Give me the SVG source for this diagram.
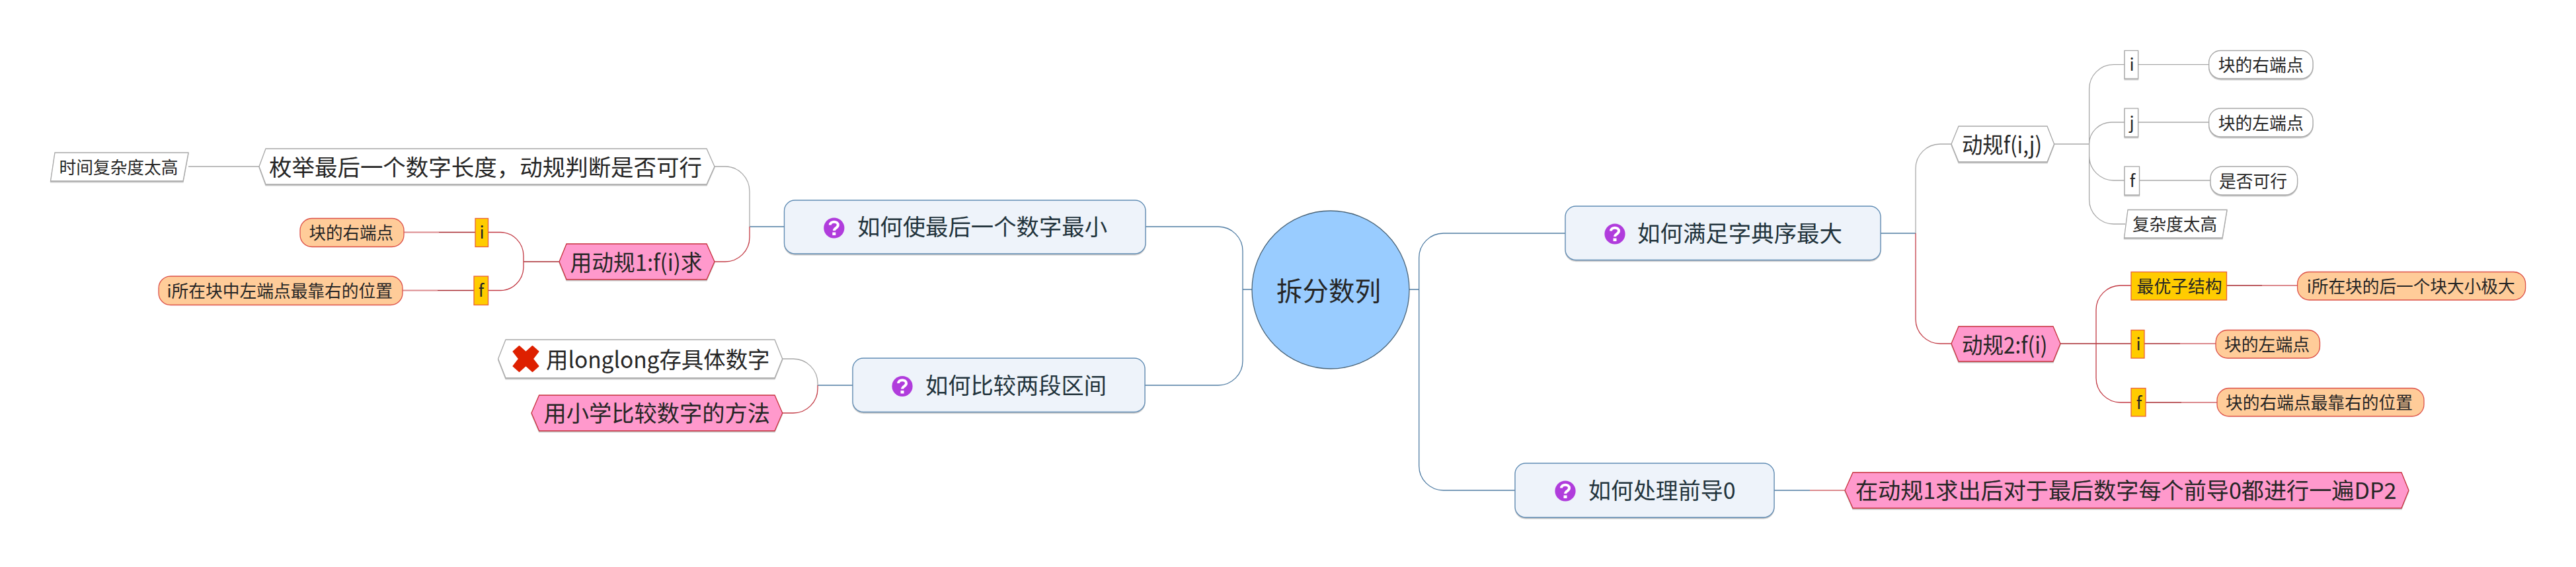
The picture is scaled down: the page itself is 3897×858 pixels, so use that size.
<svg xmlns="http://www.w3.org/2000/svg" width="3897" height="858" viewBox="0 0 3897 858">
<style>
text{font-family:"Noto Sans CJK SC","Noto Sans",sans-serif;font-weight:400;fill:#262626}
.t34{font-size:34px}.t26{font-size:26px}.t40{font-size:40px}
.d{fill:#22333c}
.c{fill:none;stroke-width:1.3}
.g{stroke:#a8a8a8}.b{stroke:#4f7ca3}.r{stroke:#c23a44}.dr{stroke:#a82a30;stroke-width:1.5}.lr{stroke:#dc8a8e;stroke-width:2}
.plain{fill:#fff;stroke:#a8a8a8;stroke-width:1.3}
.pink{fill:#ff99cc;stroke:#c8303c;stroke-width:1.3}
.orange{fill:#ffcc99;stroke:#dc5048;stroke-width:1.3}
.yellow{fill:#ffcc00;stroke:#e8603a;stroke-width:1.3}
.box{fill:#eef3fa;stroke:#5f8cb4;stroke-width:1.3}
.main{fill:#99ccff;stroke:#4a6478;stroke-width:1.3}
.s{filter:url(#sh)}
</style>
<defs>
<filter id="sh" x="-5%" y="-10%" width="110%" height="125%"><feDropShadow dx="0" dy="1.5" stdDeviation="0.6" flood-color="#888" flood-opacity="0.55"/></filter>
<g id="q"><circle r="15.6" fill="#b03cdc"/><path d="M-6,-4.500 C-6,-11 6,-11 6,-4.500 C6,0 0,0 0,4" fill="none" stroke="#fff" stroke-width="4"/><rect x="-2.500" y="6.500" width="5" height="4.500" fill="#fff"/></g>
</defs>
<g id="connectors">
<path class="c b" d="M1880,438H1894M2132,438H2146.700"/>
<path class="c b" d="M1733,343H1843A37,37 0 0 1 1880,380V546A37,37 0 0 1 1843,583H1732"/>
<path class="c b" d="M2146.700,438V390A37,37 0 0 1 2183.700,353H2368"/>
<path class="c b" d="M2146.700,438V705A37,37 0 0 0 2183.700,742H2292"/>
<path class="c b" d="M1134,343H1186.500M1237,583H1290M2845,353H2898M2684,742H2738"/>
<path class="c lr" d="M2738,742H2791"/>
<path class="c g" d="M285,252H392M1081,252H1097A37,38 0 0 1 1134,290V343"/>
<path class="c r" d="M1134,343V359A37,37 0 0 1 1097,396H1081"/>
<path class="c lr" d="M611,351.500H664M609,439.500H662"/>
<path class="c dr" d="M664,351.500H719M662,439.500H717M792,396H846"/>
<path class="c r" d="M738.500,351.500H757A35,36 0 0 1 792,387V405A35,36 0 0 1 757,439.500H738.500"/>
<path class="c g" d="M1183.700,543H1200A37,37 0 0 1 1237,580V583"/>
<path class="c r" d="M1237,583V588A37,37 0 0 1 1200,625H1183.700"/>
<path class="c g" d="M2898,353V255A37,37 0 0 1 2935,218H2952"/>
<path class="c r" d="M2898,353V483A37,37 0 0 0 2935,520H2952"/>
<path class="c g" d="M3107.600,218H3160.600M3160.600,218V135A37,37 0 0 1 3197.600,97.700H3214M3160.600,218A34,33 0 0 1 3194,185H3214M3160.600,218V236A37,37 0 0 0 3197.600,273H3214M3160.600,218V302A37,37 0 0 0 3197.600,339H3215"/>
<path class="c g" d="M3234.600,97.700H3341.700M3234.600,185H3341.700M3236.500,273H3344"/>
<path class="c dr" d="M3117,520H3224M3368.500,432H3422M3244,520H3298M3246,609H3300"/>
<path class="c lr" d="M3422,432H3475.600M3298,520H3352M3300,609H3354"/>
<path class="c r" d="M3171,520V469A37,37 0 0 1 3208,432H3224M3171,520V572A37,37 0 0 0 3208,609H3224"/>
</g>
<g id="n-root"><ellipse class="main" cx="2013" cy="438.500" rx="119" ry="119.500"/><text class="t40" x="1931" y="455" textLength="158" lengthAdjust="spacingAndGlyphs">拆分数列</text></g>
<g id="n-a"><rect class="box s" x="1186.500" y="303" width="546.500" height="81" rx="16"/><use href="#q" x="1261.800" y="345"/><text class="t34 d" x="1297" y="356" textLength="378" lengthAdjust="spacingAndGlyphs">如何使最后一个数字最小</text></g>
<g id="n-a1"><polygon class="plain s" points="392,252 402,225 1069,225 1081,252 1069,279 402,279"/><text class="t34" x="407" y="266" textLength="655" lengthAdjust="spacingAndGlyphs">枚举最后一个数字长度，动规判断是否可行</text></g>
<g id="n-a1a"><polygon class="plain s" points="83,231 285,231 277,274 76.500,274"/><text class="t26" x="89.500" y="262.500" textLength="180" lengthAdjust="spacingAndGlyphs">时间复杂度太高</text></g>
<g id="n-a2"><polygon class="pink s" points="846,396 857,369 1069,369 1081,396 1069,423 857,423"/><text class="t34" x="862.500" y="410" textLength="200" lengthAdjust="spacingAndGlyphs">用动规1:f(i)求</text></g>
<g id="n-a2i"><rect class="yellow" x="719" y="330.500" width="19.500" height="43"/><text class="t26" x="729" y="361" text-anchor="middle">i</text></g>
<g id="n-a2f"><rect class="yellow" x="717" y="418" width="21.500" height="43.500"/><text class="t26" x="728" y="449" text-anchor="middle">f</text></g>
<g id="n-a2ip"><rect class="orange" x="454" y="330.500" width="157" height="43" rx="18"/><text class="t26" x="467.600" y="361.500" textLength="127.500" lengthAdjust="spacingAndGlyphs">块的右端点</text></g>
<g id="n-a2fp"><rect class="orange" x="240" y="418" width="369" height="43.500" rx="18"/><text class="t26" x="252.500" y="449.500" textLength="341.500" lengthAdjust="spacingAndGlyphs">i所在块中左端点最靠右的位置</text></g>
<g id="n-b"><rect class="box s" x="1290" y="542" width="442" height="81.500" rx="16"/><use href="#q" x="1365" y="584.500"/><text class="t34 d" x="1400" y="596" textLength="274" lengthAdjust="spacingAndGlyphs">如何比较两段区间</text></g>
<g id="n-b1"><polygon class="plain s" points="753.600,543 765,514 1172,514 1183.700,543 1172,572 765,572"/><polygon fill="#de2000" stroke="#de2000" stroke-width="2" stroke-linejoin="round" points="776.500,532 785.500,524 795.500,533 805.500,524 814.500,532 806,543 814.500,554 805.500,562 795.500,553 785.500,562 776.500,554 785,543"/><text class="t34" x="826" y="556.500" textLength="338.500" lengthAdjust="spacingAndGlyphs">用longlong存具体数字</text></g>
<g id="n-b2"><polygon class="pink s" points="804,625 815.600,598 1172,598 1183.700,625 1172,652 815.600,652"/><text class="t34" x="822.400" y="638" textLength="342.600" lengthAdjust="spacingAndGlyphs">用小学比较数字的方法</text></g>
<g id="n-c"><rect class="box s" x="2368" y="312" width="477" height="81.500" rx="16"/><use href="#q" x="2443" y="354"/><text class="t34 d" x="2477" y="366" textLength="310" lengthAdjust="spacingAndGlyphs">如何满足字典序最大</text></g>
<g id="n-c1"><polygon class="plain s" points="2952,218 2963,191 3097,191 3107.600,218 3097,245 2963,245"/><text class="t34" x="2968" y="232" textLength="121" lengthAdjust="spacingAndGlyphs">动规f(i,j)</text></g>
<g id="n-c1i"><rect class="plain s" x="3214" y="76.500" width="20.600" height="42.500"/><text class="t26" x="3225" y="107" text-anchor="middle">i</text></g>
<g id="n-c1j"><rect class="plain s" x="3214" y="164" width="20.600" height="43"/><text class="t26" x="3225" y="195" text-anchor="middle">j</text></g>
<g id="n-c1f"><rect class="plain s" x="3214" y="252" width="22.500" height="43"/><text class="t26" x="3226" y="283" text-anchor="middle">f</text></g>
<g id="n-c1x"><polygon class="plain s" points="3219,317.500 3369,317.500 3362,360 3213.500,360"/><text class="t26" x="3226" y="349" textLength="128" lengthAdjust="spacingAndGlyphs">复杂度太高</text></g>
<g id="n-c1ip"><rect class="plain s" x="3341.700" y="76.500" width="157.300" height="42.500" rx="18"/><text class="t26" x="3355.700" y="108" textLength="129" lengthAdjust="spacingAndGlyphs">块的右端点</text></g>
<g id="n-c1jp"><rect class="plain s" x="3341.700" y="164" width="157.300" height="43" rx="18"/><text class="t26" x="3355.700" y="196" textLength="129" lengthAdjust="spacingAndGlyphs">块的左端点</text></g>
<g id="n-c1fp"><rect class="plain s" x="3344" y="252" width="131.600" height="43" rx="18"/><text class="t26" x="3357" y="284" textLength="103" lengthAdjust="spacingAndGlyphs">是否可行</text></g>
<g id="n-c2"><polygon class="pink s" points="2952,520 2963,494 3106,494 3117,520 3106,547 2963,547"/><text class="t34" x="2968" y="535" textLength="129.500" lengthAdjust="spacingAndGlyphs">动规2:f(i)</text></g>
<g id="n-c2s"><rect class="yellow" x="3224" y="411.500" width="144.500" height="42.500"/><text class="t26" x="3232.600" y="443" textLength="129" lengthAdjust="spacingAndGlyphs">最优子结构</text></g>
<g id="n-c2i"><rect class="yellow" x="3224" y="499.500" width="20" height="42.500"/><text class="t26" x="3235" y="530" text-anchor="middle">i</text></g>
<g id="n-c2f"><rect class="yellow" x="3224" y="587.500" width="22" height="42.500"/><text class="t26" x="3236" y="619" text-anchor="middle">f</text></g>
<g id="n-c2sp"><rect class="orange" x="3475.600" y="411.500" width="345" height="42.500" rx="18"/><text class="t26" x="3489.700" y="443" textLength="315" lengthAdjust="spacingAndGlyphs">i所在块的后一个块大小极大</text></g>
<g id="n-c2ip"><rect class="orange" x="3352" y="499.500" width="157.500" height="42.500" rx="18"/><text class="t26" x="3365" y="530.500" textLength="129" lengthAdjust="spacingAndGlyphs">块的左端点</text></g>
<g id="n-c2fp"><rect class="orange" x="3354" y="587.500" width="313" height="42.500" rx="18"/><text class="t26" x="3367" y="619" textLength="283" lengthAdjust="spacingAndGlyphs">块的右端点最靠右的位置</text></g>
<g id="n-d"><rect class="box s" x="2292" y="701" width="392" height="82" rx="16"/><use href="#q" x="2368" y="743"/><text class="t34 d" x="2403" y="755" textLength="222.500" lengthAdjust="spacingAndGlyphs">如何处理前导0</text></g>
<g id="n-d1"><polygon class="pink s" points="2791,742 2803,715 3633,715 3644,742 3633,769 2803,769"/><text class="t34" x="2807" y="755" textLength="818.500" lengthAdjust="spacingAndGlyphs">在动规1求出后对于最后数字每个前导0都进行一遍DP2</text></g>
</svg>
